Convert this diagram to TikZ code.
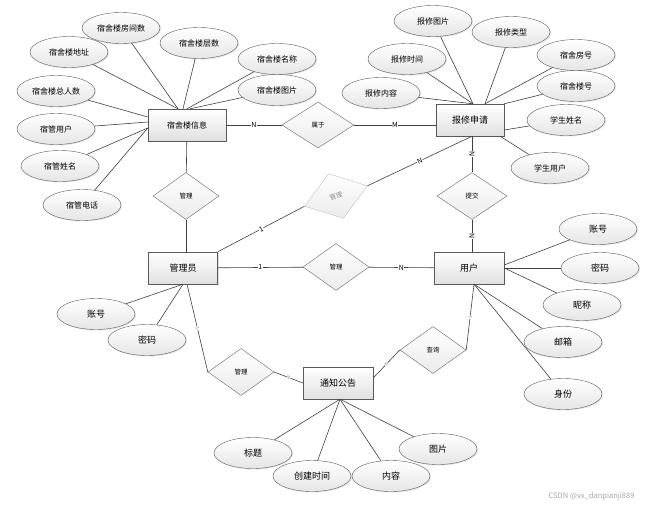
\documentclass[tikz,border=0pt]{standalone}
\usepackage{fontspec}
\setmainfont{Noto Sans CJK SC}
\usetikzlibrary{shapes.geometric,shadows}

\begin{document}
\begin{tikzpicture}[
  x=1pt, y=-1pt,
  entity/.style={draw=black!65, top color=white, bottom color=black!12,
                 minimum width=70pt, minimum height=32pt, inner sep=1pt,
                 font=\fontsize{9}{10}\selectfont,
                 drop shadow={opacity=0.25, shadow xshift=1pt, shadow yshift=-1pt}},
  attr/.style={ellipse, draw=black!65, top color=white, bottom color=black!10,
               minimum width=78pt, minimum height=31pt, inner sep=0pt,
               font=\fontsize{8}{9}\selectfont,
               drop shadow={opacity=0.2, shadow xshift=1pt, shadow yshift=-1pt}},
  rel/.style={diamond, draw=black!60, top color=white, bottom color=black!8,
              minimum width=66pt, minimum height=47pt, inner sep=0pt,
              font=\fontsize{6.5}{7}\selectfont},
  link/.style={draw=black!75, line width=0.6pt},
  card/.style={font=\fontsize{7}{8}\selectfont, fill=white, inner sep=0.5pt},
  tiny/.style={font=\fontsize{4.5}{5}\selectfont, text=black!50, fill=white, inner sep=0.3pt}
]
  \useasboundingbox (0,0) rectangle (645,507);

  % entities
  \node[entity, minimum width=78pt, font=\fontsize{8}{9}\selectfont] (info) at (187,125) {宿舍楼信息};
  \node[entity, minimum width=68pt] (apply) at (470,120) {报修申请};
  \node[entity, minimum width=69pt] (admin) at (183,268) {管理员};
  \node[entity] (user) at (469,268) {用户};
  \node[entity] (notice) at (338,383) {通知公告};

  % relationships
  \node[rel, minimum width=72pt, minimum height=46pt] (belong) at (318,125) {属于};
  \node[rel] (mgA) at (186,196) {管理};
  \node[rel, rotate=18, draw=black!25, text=black!45] (mgB) at (336,196) {管理};
  \node[rel] (mgC) at (336,267) {管理};
  \node[rel, minimum width=70pt] (submit) at (472,196) {提交};
  \node[rel] (mgD) at (241,372) {管理};
  \node[rel] (query) at (433,350) {查询};

  % attributes of the building
  \node[attr] (room) at (121,28) {宿舍楼房间数};
  \node[attr] (floor) at (199,43) {宿舍楼层数};
  \node[attr] (addr) at (69,52) {宿舍楼地址};
  \node[attr] (bname) at (277,59) {宿舍楼名称};
  \node[attr] (bpic) at (277,90) {宿舍楼图片};
  \node[attr] (total) at (56,91) {宿舍楼总人数};
  \node[attr] (muser) at (56,129) {宿管用户};
  \node[attr] (mname) at (60,166) {宿管姓名};
  \node[attr] (mtel) at (82,205) {宿管电话};

  % attributes of the repair request
  \node[attr] (rpic) at (433,21) {报修图片};
  \node[attr] (rtype) at (511,32) {报修类型};
  \node[attr] (rtime) at (407,59) {报修时间};
  \node[attr] (roomno) at (576,55) {宿舍房号};
  \node[attr] (bno) at (576,86) {宿舍楼号};
  \node[attr] (rtext) at (381,93) {报修内容};
  \node[attr] (sname) at (566,120) {学生姓名};
  \node[attr] (suser) at (550,168) {学生用户};

  % attributes of the user
  \node[attr, font=\fontsize{9}{10}\selectfont] (uacc) at (598,229) {账号};
  \node[attr, font=\fontsize{9}{10}\selectfont] (upwd) at (600,268) {密码};
  \node[attr, font=\fontsize{9}{10}\selectfont] (unick) at (582,305) {昵称};
  \node[attr, font=\fontsize{9}{10}\selectfont] (umail) at (563,342) {邮箱};
  \node[attr, font=\fontsize{9}{10}\selectfont] (urole) at (563,394) {身份};

  % attributes of the admin
  \node[attr, font=\fontsize{9}{10}\selectfont] (aacc) at (96,314) {账号};
  \node[attr, font=\fontsize{9}{10}\selectfont] (apwd) at (147,340) {密码};

  % attributes of the notice
  \node[attr, font=\fontsize{9}{10}\selectfont] (ntitle) at (253,453) {标题};
  \node[attr, font=\fontsize{9}{10}\selectfont] (ntime) at (312,476) {创建时间};
  \node[attr, font=\fontsize{9}{10}\selectfont] (ntext) at (391,476) {内容};
  \node[attr, font=\fontsize{9}{10}\selectfont] (npic) at (438,449) {图片};

  \node[text=black!35, font=\fontsize{7.5}{8}\selectfont, anchor=east] (mark) at (638,496) {CSDN @vx\_danpianji889};

  % relationship links
  \draw[link] (info) -- node[card]{N} (belong);
  \draw[link] (belong) -- node[card]{M} (belong -| apply.west);
  \draw[link] (info) -- (mgA);
  \draw[link] (mgA) -- (mgA |- admin.north);
  \draw[link] (admin.north east) -- node[card, sloped]{1} (mgB.west);
  \draw[link] (mgB.east) -- node[card, sloped]{N} ([xshift=2pt]apply.south);
  \draw[link] (apply.south -| submit) -- node[card, sloped]{N} (submit);
  \draw[link] (submit) -- node[card, sloped]{N} (submit |- user.north);
  \draw[link] (admin) -- node[card]{1} (mgC);
  \draw[link] (mgC) -- node[card]{N} (user);
  \draw[link] ([xshift=4pt]admin.south) -- node[tiny, sloped]{1} (mgD.west);
  \draw[link] (mgD.east) -- node[tiny, sloped]{N} (notice.west);
  \draw[link] ([yshift=5pt]notice.east) -- node[tiny, sloped]{N} (query.west);
  \draw[link] (query.east) -- node[tiny, sloped]{1} ([xshift=5pt]user.south);

  % attribute links
  \draw[link] (room) -- ([xshift=-9pt]info.north);
  \draw[link] (floor) -- ([xshift=-4pt]info.north);
  \draw[link] (addr) -- ([xshift=-9pt]info.north);
  \draw[link] (bname) -- (info.north);
  \draw[link] (bpic) -- ([xshift=3pt]info.north);
  \draw[link] (total) -- ([yshift=8pt]info.west);
  \draw[link] (muser) -- ([yshift=3pt]info.west);
  \draw[link] (mname) -- ([yshift=-3pt]info.west);
  \draw[link] (mtel) -- ([yshift=-3pt]info.west);

  \draw[link] (rpic) -- ([xshift=3pt]apply.north);
  \draw[link] (rtime) -- ([xshift=3pt]apply.north);
  \draw[link] (rtext) -- ([xshift=3pt]apply.north);
  \draw[link] (rtype) -- ([xshift=15pt]apply.north);
  \draw[link] (roomno) -- ([xshift=15pt]apply.north);
  \draw[link] (bno) -- (apply.north east);
  \draw[link] (sname) -- ([yshift=-10pt]apply.east);
  \draw[link] (suser) -- ([xshift=-4pt]apply.south east);

  \draw[link] (uacc) -- ([yshift=3pt]user.east);
  \draw[link] (upwd) -- (user.east);
  \draw[link] (unick) -- (user.east);
  \draw[link] (umail) -- ([xshift=5pt]user.south);
  \draw[link] (urole) -- ([xshift=5pt]user.south);

  \draw[link] (aacc) -- (admin.south);
  \draw[link] (apwd) -- (admin.south);

  \draw[link] (ntitle) -- ([xshift=2pt]notice.south);
  \draw[link] (ntime) -- ([xshift=2pt]notice.south);
  \draw[link] (ntext) -- ([xshift=2pt]notice.south);
  \draw[link] (npic) -- ([xshift=2pt]notice.south);
\end{tikzpicture}
\end{document}
